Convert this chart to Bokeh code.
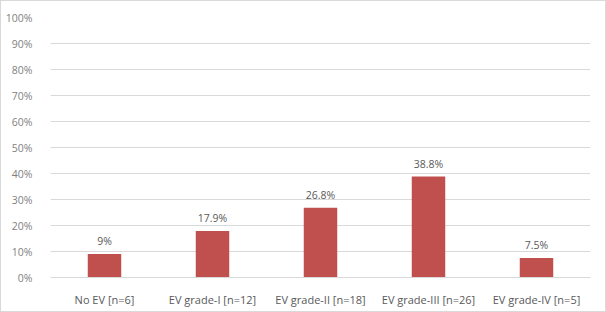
from bokeh.plotting import figure
from bokeh.models import Range1d, FactorRange, ColumnDataSource, LabelSet, FixedTicker, CustomJSTickFormatter
from bokeh.embed import file_html
from bokeh.resources import INLINE
from bokeh.core.properties import value

categories = ["No EV [n=6]", "EV grade-I [n=12]", "EV grade-II [n=18]", "EV grade-III [n=26]", "EV grade-IV [n=5]"]
values = [9, 17.9, 26.8, 38.8, 7.5]
value_labels = ["9%", "17.9%", "26.8%", "38.8%", "7.5%"]
y_ticks = [0, 10, 20, 30, 40, 50, 60, 70, 80, 90, 100]

FONT = "Open Sans"

p = figure(width=606, height=312, output_backend="svg", toolbar_location=None,
           x_range=FactorRange(*categories, range_padding=0), y_range=Range1d(0, 100),
           min_border_left=49, min_border_right=17, min_border_top=16, min_border_bottom=36)
p.styles = {"border": "1px solid #d9d9d9", "box-sizing": "border-box"}
p.outline_line_color = None
p.background_fill_color = "white"
p.border_fill_color = "white"

src = ColumnDataSource(dict(cat=categories, val=values, lab=value_labels))
p.vbar(x="cat", top="val", width=0.31, source=src, fill_color="#c0504d", line_color=None)

labels = LabelSet(x="cat", y="val", text="lab", source=src, y_offset=6,
                  text_align="center", text_baseline="bottom", text_font=value(FONT),
                  text_font_size="10.5px", text_color="#595959")
p.add_layout(labels)

p.xgrid.grid_line_color = None
p.ygrid.grid_line_color = "#d9d9d9"
p.ygrid.grid_line_width = 1

p.yaxis.ticker = FixedTicker(ticks=y_ticks)
p.yaxis.formatter = CustomJSTickFormatter(code="return tick + '%';")
p.yaxis.axis_line_color = None
p.yaxis.major_tick_line_color = None
p.yaxis.minor_tick_line_color = None
p.yaxis.major_label_standoff = 12
p.yaxis.major_label_text_font = FONT
p.yaxis.major_label_text_font_size = "10.5px"
p.yaxis.major_label_text_color = "#7f7f7f"

p.xaxis.axis_line_color = "#d9d9d9"
p.xaxis.major_tick_line_color = None
p.xaxis.minor_tick_line_color = None
p.xaxis.major_label_standoff = 8
p.xaxis.major_label_text_font = FONT
p.xaxis.major_label_text_font_size = "11px"
p.xaxis.major_label_text_color = "#595959"

open("out.html", "w").write(file_html(p, INLINE))
